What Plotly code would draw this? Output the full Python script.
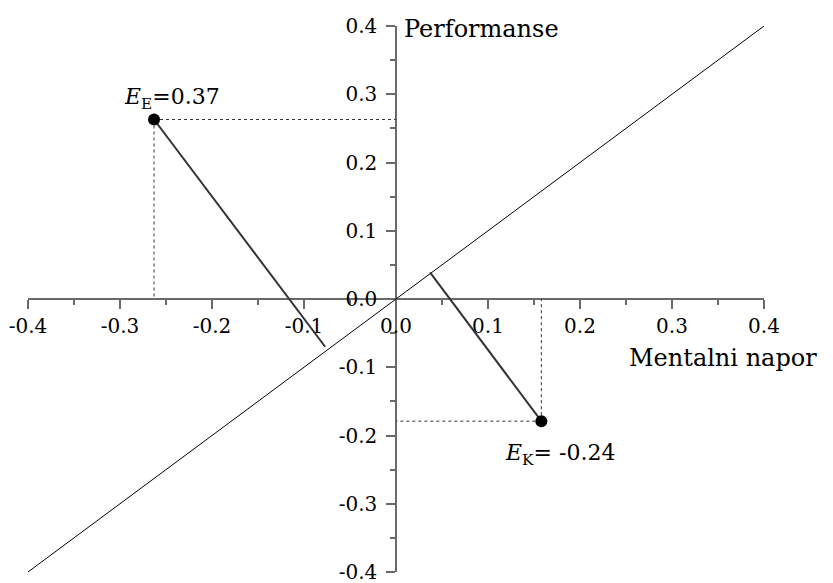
import plotly.graph_objects as go

# Axis ticks
tick_vals = [-0.4, -0.3, -0.2, -0.1, 0.0, 0.1, 0.2, 0.3, 0.4]
tick_text = ["-0.4", "-0.3", "-0.2", "-0.1", "0.0", "0.1", "0.2", "0.3", "0.4"]

# Neutral line E=0 (performance equals mental effort)
neutral_x = [-0.4, 0.4]
neutral_y = [-0.4, 0.4]

# Condition points: (mental effort, performance)
point_names = ["E", "K"]
point_x = [-0.263, 0.158]
point_y = [0.263, -0.179]
point_e = [0.37, -0.24]

# Perpendicular segment end points on the E=0 line
foot_x = [-0.077, 0.037]
foot_y = [-0.070, 0.039]

FONT = "DejaVu Serif"
AXIS_COLOR = "#6a6a6a"

fig = go.Figure()

# E=0 diagonal
fig.add_trace(go.Scatter(x=neutral_x, y=neutral_y, mode="lines",
                         line=dict(color="black", width=1), hoverinfo="skip"))

for px, py, fx, fy in zip(point_x, point_y, foot_x, foot_y):
    # dashed projections onto the axes
    fig.add_trace(go.Scatter(x=[px, 0], y=[py, py], mode="lines",
                             line=dict(color="#333333", width=1, dash="3px,3px"), hoverinfo="skip"))
    fig.add_trace(go.Scatter(x=[px, px], y=[py, 0], mode="lines",
                             line=dict(color="#333333", width=1, dash="3px,3px"), hoverinfo="skip"))
    # distance segment to the E=0 line
    fig.add_trace(go.Scatter(x=[px, fx], y=[py, fy], mode="lines",
                             line=dict(color="#333333", width=2), hoverinfo="skip"))

fig.add_trace(go.Scatter(x=point_x, y=point_y, mode="markers",
                         marker=dict(color="black", size=12), hoverinfo="skip"))

axis_common = dict(
    range=[-0.4, 0.4],
    tickvals=tick_vals,
    ticktext=tick_text,
    ticks="outside",
    ticklen=9,
    tickwidth=1.5,
    tickcolor=AXIS_COLOR,
    showline=True,
    linecolor=AXIS_COLOR,
    linewidth=1.5,
    showgrid=False,
    zeroline=False,
    anchor="free",
    position=0.5,
    automargin=False,
    layer="below traces",
    ticklabeloverflow="allow",
    tickfont=dict(family=FONT, size=20, color="black"),
    minor=dict(ticks="outside", dtick=0.05, ticklen=5, tickwidth=1.5, tickcolor=AXIS_COLOR),
)

fig.update_layout(
    width=833,
    height=583,
    margin=dict(l=28, r=69, t=26, b=11),
    paper_bgcolor="white",
    plot_bgcolor="white",
    showlegend=False,
    xaxis=dict(**axis_common),
    yaxis=dict(**axis_common, ticklabelstandoff=5),
    font=dict(family=FONT, color="black"),
)

label_font = dict(family=FONT, size=22, color="black")
title_font = dict(family=FONT, size=24, color="black")
annotations = [
    dict(x=-0.298, y=0.294, text="<i>E</i><sub>E</sub>=%.2f" % point_e[0], font=label_font),
    dict(x=0.116, y=-0.228, text="<i>E</i><sub>K</sub>= %.2f" % point_e[1], font=label_font),
    dict(x=0.4065, y=0.401, text="<i>E</i>=0", font=label_font),
    dict(x=0.0065, y=0.395, text="Performanse", font=title_font),
    dict(x=0.251, y=-0.087, text="Mentalni napor", font=title_font),
]
for a in annotations:
    fig.add_annotation(xref="x", yref="y", xanchor="left", yanchor="middle",
                       showarrow=False, **a)

fig.write_html("out.html")
